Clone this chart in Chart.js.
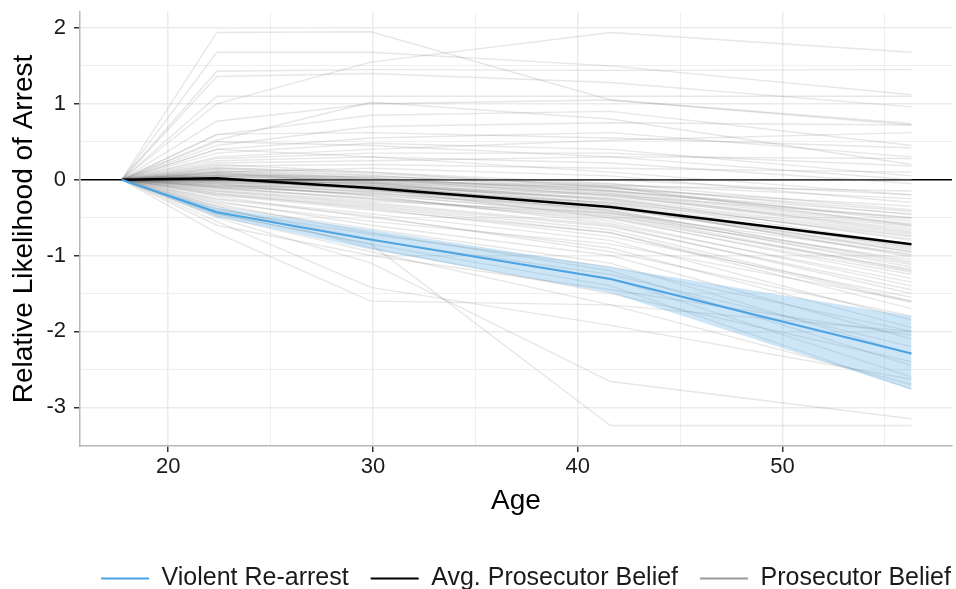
<!DOCTYPE html>
<html>
<head>
<meta charset="utf-8">
<script src="https://cdn.jsdelivr.net/npm/chart.js@4.4.1/dist/chart.umd.min.js"></script>
<style>
  html, body { margin: 0; padding: 0; background: #fff; }
  canvas { display: block; }
</style>
</head>
<body>
<canvas id="ageChart" width="956" height="589"></canvas>
<script>
// ages where the curves are evaluated
const ages = [17.73, 22.37, 29.9, 41.6, 56.3];

const violent = [0, -0.43, -0.79, -1.31, -2.29];
const violentLow = [0, -0.49, -0.92, -1.49, -2.77];
const violentHigh = [0, -0.37, -0.66, -1.15, -1.80];
const avgBelief = [0, 0.02, -0.11, -0.36, -0.85];

// one row per prosecutor
const beliefs = [
  [0, 1.94, 1.95, 1.05, 0.72],
  [0, 1.68, 1.68, 1.50, 1.12],
  [0, 1.00, 1.55, 1.94, 1.68],
  [0, 1.43, 1.45, 1.44, 1.45],
  [0, 1.36, 1.40, 1.28, 0.96],
  [0, 1.10, 1.10, 1.10, 1.10],
  [0, 0.77, 1.00, 1.05, 0.74],
  [0, 0.59, 0.85, 0.90, 0.45],
  [0, 0.52, 1.02, 0.80, 0.20],
  [0, 0.45, 0.70, 0.75, 0.72],
  [0, 0.60, 0.62, 0.55, 0.42],
  [0, 0.40, 0.55, 0.62, 0.30],
  [0, 0.35, 0.48, 0.40, 0.05],
  [0, 0.30, 0.40, 0.52, 0.62],
  [0, 0.50, 0.45, 0.30, 0.00],
  [0, 0.28, 0.35, 0.35, 0.18],
  [0, 0.25, 0.30, 0.22, -0.05],
  [0, 0.40, 0.30, 0.10, -0.20],
  [0, 0.22, 0.25, 0.30, 0.28],
  [0, 0.18, 0.20, 0.15, 0.10],
  [0, 0, 0, 0, 0],
  [0, 0, 0, 0, 0],
  [0, 0, 0, 0, 0],
  [0, 0, 0, 0, 0],
  [0, 0, 0, 0, 0],
  [0, 0.15, 0.10, -0.05, -0.40],
  [0, 0.12, 0.05, -0.10, -0.55],
  [0, 0.10, 0.00, -0.20, -0.70],
  [0, 0.08, 0.02, -0.15, -0.50],
  [0, 0.05, -0.05, -0.25, -0.80],
  [0, 0.20, 0.10, -0.10, -0.60],
  [0, 0.10, 0.15, 0.05, -0.30],
  [0, 0.05, 0.00, 0.00, -0.20],
  [0, 0.00, -0.05, -0.15, -0.45],
  [0, -0.02, -0.10, -0.30, -0.90],
  [0, 0.03, -0.08, -0.35, -1.00],
  [0, 0.00, -0.12, -0.40, -1.10],
  [0, -0.05, -0.15, -0.30, -0.75],
  [0, -0.08, -0.20, -0.45, -1.20],
  [0, -0.10, -0.18, -0.38, -0.95],
  [0, 0.06, -0.02, -0.22, -0.65],
  [0, 0.02, -0.06, -0.28, -0.85],
  [0, -0.03, -0.12, -0.50, -1.30],
  [0, -0.06, -0.22, -0.55, -1.40],
  [0, -0.12, -0.25, -0.48, -1.05],
  [0, -0.15, -0.30, -0.60, -1.50],
  [0, 0.00, -0.10, -0.20, -0.50],
  [0, 0.04, 0.00, -0.12, -0.35],
  [0, -0.04, -0.08, -0.18, -0.60],
  [0, 0.08, -0.04, -0.32, -0.95],
  [0, -0.07, -0.16, -0.42, -1.15],
  [0, 0.01, -0.14, -0.36, -0.88],
  [0, -0.10, -0.26, -0.52, -1.25],
  [0, -0.14, -0.28, -0.44, -0.98],
  [0, -0.18, -0.34, -0.66, -1.60],
  [0, 0.12, 0.02, -0.18, -0.68],
  [0, -0.02, -0.04, -0.10, -0.42],
  [0, 0.06, 0.04, -0.06, -0.25],
  [0, -0.08, -0.10, -0.24, -0.72],
  [0, 0.00, -0.02, -0.08, -0.15],
  [0, 0.09, -0.03, -0.27, -0.78],
  [0, -0.01, -0.09, -0.33, -1.02],
  [0, 0.14, 0.06, -0.14, -0.52],
  [0, -0.09, -0.19, -0.47, -1.22],
  [0, 0.03, -0.13, -0.41, -1.08],
  [0, 0.07, 0.01, -0.21, -0.62],
  [0, -0.05, -0.21, -0.58, -1.35],
  [0, 0.16, 0.08, -0.08, -0.46],
  [0, -0.11, -0.24, -0.50, -1.18],
  [0, 0.02, -0.07, -0.26, -0.74],
  [0, -0.16, -0.32, -0.62, -1.45],
  [0, 0.10, 0.03, -0.16, -0.58],
  [0, -0.03, -0.17, -0.44, -1.12],
  [0, 0.05, -0.11, -0.37, -0.92],
  [0, -0.20, -0.36, -0.70, -1.62],
  [0, -0.20, -0.40, -0.70, -1.70],
  [0, -0.25, -0.45, -0.80, -1.85],
  [0, -0.22, -0.50, -0.90, -1.95],
  [0, -0.30, -0.55, -0.85, -1.60],
  [0, -0.28, -0.60, -1.00, -2.10],
  [0, -0.35, -0.65, -1.10, -2.30],
  [0, -0.32, -0.70, -1.20, -2.45],
  [0, -0.40, -0.72, -1.15, -2.00],
  [0, -0.38, -0.78, -1.30, -2.60],
  [0, -0.45, -0.85, -1.40, -2.76],
  [0, -0.42, -0.80, -1.25, -2.20],
  [0, -0.18, -0.38, -0.75, -1.55],
  [0, -0.26, -0.48, -0.95, -1.80],
  [0, -0.70, -1.60, -1.65, -2.00],
  [0, -0.45, -0.85, -3.24, -3.24],
  [0, -0.50, -1.10, -2.66, -3.15],
  [0, -0.55, -1.42, -1.92, -2.63],
  [0, -0.35, -0.90, -1.50, -2.40],
  [0, -0.48, -0.95, -1.65, -2.70],
  [0, -0.60, -1.00, -1.45, -2.05]
];

const xTickLabels = [20, 30, 40, 50];
const yTickLabels = [-3, -2, -1, 0, 1, 2];

const toPoints = vals => vals.map((v, i) => ({x: ages[i], y: v}));

Chart.defaults.font.family = "'Liberation Sans', Arial, sans-serif";
Chart.defaults.color = '#1a1a1a';

const grayLines = beliefs.map((row, i) => ({
  label: i === 0 ? 'Prosecutor Belief' : '',
  data: toPoints(row),
  borderColor: 'rgba(105,105,105,0.16)',
  borderWidth: 1.4,
  pointRadius: 0,
  fill: false
}));

// first dataset is drawn on top
const datasets = [
  {label: 'Violent Re-arrest', data: toPoints(violent), borderColor: '#4aa3e2', borderWidth: 2, pointRadius: 0, fill: false},
  {label: 'Avg. Prosecutor Belief', data: toPoints(avgBelief), borderColor: '#000', borderWidth: 2.5, pointRadius: 0, fill: false},
  {label: '', data: toPoints(violentHigh), borderWidth: 0, borderColor: 'rgba(0,0,0,0)', backgroundColor: 'rgba(86,170,230,0.3)', pointRadius: 0, fill: '+1'},
  {label: '', data: toPoints(violentLow), borderWidth: 0, borderColor: 'rgba(0,0,0,0)', pointRadius: 0, fill: false},
  ...grayLines
];

const isLabelled = (v, list) => list.includes(v);

// legend sits centred under the panel, not under the whole canvas
const legendShift = {
  id: 'legendShift',
  afterLayout(chart) {
    chart.legend.left += 50;
    chart.legend.right += 50;
  }
};

new Chart(document.getElementById('ageChart'), {
  type: 'line',
  data: {datasets},
  plugins: [legendShift],
  options: {
    responsive: false,
    animation: false,
    events: [],
    layout: {padding: {left: 0, right: 4, top: 12, bottom: -12}},
    plugins: {
      tooltip: {enabled: false},
      legend: {
        position: 'bottom',
        labels: {
          usePointStyle: true,
          pointStyle: 'line',
          pointStyleWidth: 48,
          padding: 22,
          font: {size: 25},
          color: '#1a1a1a',
          generateLabels(chart) {
            const items = Chart.defaults.plugins.legend.labels.generateLabels(chart).filter(it => it.text);
            items.forEach(it => {
              it.lineWidth = 2;
              if (it.text === 'Prosecutor Belief') it.strokeStyle = '#999';
            });
            return items;
          }
        }
      }
    },
    scales: {
      x: {
        type: 'linear',
        min: 15.69,
        max: 58.28,
        afterFit(scale) { scale.height = 98; scale.paddingLeft = 0; scale.paddingRight = 0; },
        ticks: {
          stepSize: 5,
          includeBounds: false,
          autoSkip: false,
          maxRotation: 0,
          padding: 2,
          font: {size: 22},
          color: '#1a1a1a',
          callback: v => isLabelled(v, xTickLabels) ? String(v) : ''
        },
        grid: {
          color: '#ebebeb',
          lineWidth: c => isLabelled(c.tick.value, xTickLabels) ? 1.5 : 0.8,
          tickColor: c => isLabelled(c.tick.value, xTickLabels) ? '#333' : 'rgba(0,0,0,0)',
          tickLength: 6,
          tickWidth: 1.5
        },
        border: {color: '#b8b8b8', width: 1.5},
        title: {display: true, text: 'Age', font: {size: 28}, color: '#000', padding: {top: 0, bottom: 26}}
      },
      y: {
        type: 'linear',
        min: -3.51,
        max: 2.21,
        afterFit(scale) { scale.width = 80; scale.paddingTop = 0; scale.paddingBottom = 0; },
        ticks: {
          stepSize: 0.5,
          includeBounds: false,
          autoSkip: false,
          padding: 8,
          font: {size: 22},
          color: '#1a1a1a',
          callback: v => isLabelled(v, yTickLabels) ? String(v) : ''
        },
        grid: {
          color: c => c.tick.value === 0 ? '#000' : '#ebebeb',
          lineWidth: c => c.tick.value === 0 ? 1.6 : (isLabelled(c.tick.value, yTickLabels) ? 1.5 : 0.8),
          tickColor: c => isLabelled(c.tick.value, yTickLabels) ? '#333' : 'rgba(0,0,0,0)',
          tickLength: 6,
          tickWidth: 1.5
        },
        border: {color: '#b8b8b8', width: 1.5},
        title: {display: true, text: 'Relative Likelihood of Arrest', font: {size: 28}, color: '#000', padding: {top: 7, bottom: 0}}
      }
    }
  }
});
</script>
</body>
</html>
